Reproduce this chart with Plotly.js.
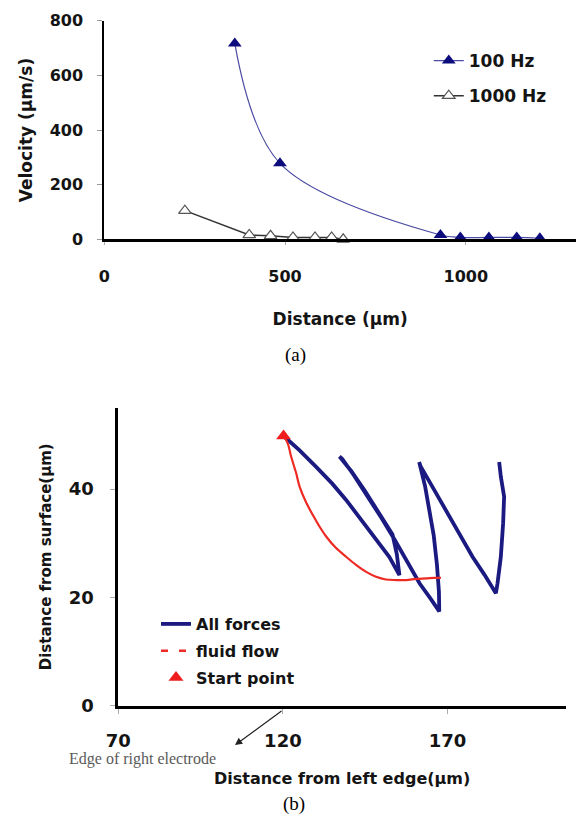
<!DOCTYPE html>
<html>
<head>
<meta charset="utf-8">
<script src="https://cdn.plot.ly/plotly-3.0.1.min.js"></script>
<style>html,body{margin:0;padding:0;background:#fff;}#chart{width:581px;height:816px;}</style>
</head>
<body>
<div id="chart"></div>
<script>
// ---------- (a) Velocity vs distance ----------
const hz100X = [361, 486, 930, 985, 1064, 1141, 1205];
const hz100Y = [717, 278, 16, 7, 7, 7, 4];
const hz1000X = [223, 401, 460, 522, 583, 629, 661];
const hz1000Y = [105, 16, 13, 7, 7, 7, 0];
const velTicks = [0, 200, 400, 600, 800];
const distTicks = [0, 500, 1000];

// ---------- (b) Trajectories ----------
const allForcesX = [120.2, 125, 130.1, 135, 139.2, 143, 146.3, 149.5, 152.3, 155.4,
  154.6, 153.3, 149.6, 145.0, 140.8, 137.2,
  138.0, 141.5, 145.8, 150.0, 154.0, 158.0, 161.5, 164.8, 167.5,
  167.4, 166.8, 165.8, 164.5, 163.2, 161.4,
  161.8, 166.0, 170.5, 174.0, 177.6, 181.2, 184.7,
  185.2, 186.2, 186.9, 187.2, 186.2, 185.7];
const allForcesY = [49.8, 47.2, 44.1, 41.0, 38.0, 35.0, 32.4, 29.8, 27.5, 24.1,
  28.0, 31.6, 35.2, 39.6, 43.3, 46.0,
  45.6, 42.6, 38.7, 34.6, 30.6, 26.3, 22.6, 19.8, 17.4,
  21.0, 26.0, 31.5, 36.5, 40.5, 45.0,
  44.2, 39.8, 34.9, 31.2, 27.5, 24.2, 20.75,
  22.6, 27.5, 33.7, 38.6, 42.3, 45.0];
const fluidX = [120.2, 121.5, 122.5, 124.0, 125.1, 127.0, 129.1, 131.2, 133.2, 136.0, 139.2,
  142.2, 145.3, 148.3, 151.3, 154.4, 157.4, 160.5, 163.5, 166.0, 168.0];
const fluidY = [49.8, 48.4, 46.0, 43.0, 40.4, 37.6, 35.2, 33.0, 31.2, 29.2, 27.5,
  26.0, 24.7, 23.8, 23.3, 23.2, 23.2, 23.4, 23.5, 23.6, 23.6];
const startX = [120.2];
const startY = [49.8];
const posTicks = [70, 120, 170];
const heightTicks = [0, 20, 40];

const sans = 'DejaVu Sans, Arial, sans-serif';
const serif = 'Liberation Serif, Times New Roman, serif';
const ink = '#141414';

const traces = [
  { x: hz100X, y: hz100Y, name: '100 Hz', type: 'scatter', mode: 'lines+markers',
    xaxis: 'x', yaxis: 'y', legend: 'legend', legendgroup: 'a', cliponaxis: false,
    line: { color: '#4b4ba3', width: 1.2, shape: 'spline', smoothing: 1 },
    marker: { symbol: 'triangle-up', size: 12, color: '#0c0c7c', line: { width: 0 } } },
  { x: hz1000X, y: hz1000Y, name: '1000 Hz', type: 'scatter', mode: 'lines+markers',
    xaxis: 'x', yaxis: 'y', legend: 'legend', legendgroup: 'b', cliponaxis: false,
    line: { color: '#333333', width: 1.5 },
    marker: { symbol: 'triangle-up', size: 11, color: '#ffffff', line: { color: '#555555', width: 1.2 } } },

  { x: allForcesX, y: allForcesY, name: 'All forces', type: 'scatter', mode: 'lines',
    xaxis: 'x2', yaxis: 'y2', legend: 'legend2', legendgroup: 'c',
    line: { color: '#1a1a80', width: 3.8 } },
  { x: fluidX, y: fluidY, name: 'fluid flow', type: 'scatter', mode: 'lines',
    xaxis: 'x2', yaxis: 'y2', showlegend: false,
    line: { color: '#ee2a24', width: 2.2, shape: 'spline' } },
  { x: [null], y: [null], name: 'fluid flow', type: 'scatter', mode: 'lines',
    xaxis: 'x2', yaxis: 'y2', legend: 'legend2', legendgroup: 'd',
    line: { color: '#ee2a24', width: 2.5, dash: '7px,11px' } },
  { x: startX, y: startY, name: 'Start point', type: 'scatter', mode: 'markers',
    xaxis: 'x2', yaxis: 'y2', legend: 'legend2', legendgroup: 'e', cliponaxis: false,
    marker: { symbol: 'triangle-up', size: 13, color: '#ee1c1c' } }
];

const tickFontA = { family: sans, size: 16, color: ink, weight: 'bold' };
const tickFontB = { family: sans, size: 18, color: ink, weight: 'bold' };

const layout = {
  width: 581, height: 816,
  margin: { l: 0, r: 0, t: 0, b: 0 },
  paper_bgcolor: '#ffffff', plot_bgcolor: '#ffffff',
  showlegend: true,
  xaxis: { domain: [0.1795, 0.9914], range: [0, 1305], anchor: 'y',
    tickvals: distTicks, ticks: 'outside', ticklen: 3, tickcolor: '#aaaaaa',
    showline: true, linecolor: '#000', linewidth: 2.5, showgrid: false, zeroline: false,
    tickfont: tickFontA, ticklabelstandoff: 18,
    title: { text: 'Distance (µm)', font: { family: sans, size: 17, color: ink, weight: 'bold' }, standoff: 28 } },
  yaxis: { domain: [0.7067, 0.9746], range: [0, 800], anchor: 'x',
    tickvals: velTicks, ticks: 'outside', ticklen: 5, tickcolor: '#999999',
    showline: true, linecolor: '#000', linewidth: 2, showgrid: false, zeroline: false,
    tickfont: tickFontA, ticklabelstandoff: 11,
    title: { text: 'Velocity (µm/s)', font: { family: sans, size: 17, color: ink, weight: 'bold' }, standoff: 13 } },
  xaxis2: { domain: [0.2036, 0.9742], range: [70, 206], anchor: 'y2',
    tickvals: posTicks, ticks: 'outside', ticklen: 5, tickcolor: '#aaaaaa',
    showline: true, linecolor: '#000', linewidth: 3, showgrid: false, zeroline: false,
    tickfont: tickFontB, ticklabelstandoff: 12,
    title: { text: 'Distance from left edge(µm)', font: { family: sans, size: 16, color: ink, weight: 'bold' }, standoff: 23 } },
  yaxis2: { domain: [0.1352, 0.5002], range: [0, 55], anchor: 'x2',
    tickvals: heightTicks, ticks: 'outside', ticklen: 5, tickcolor: '#aaaaaa',
    showline: true, linecolor: '#000', linewidth: 3, showgrid: false, zeroline: false,
    tickfont: tickFontB, ticklabelstandoff: 13,
    title: { text: 'Distance from surface(µm)', font: { family: sans, size: 15, color: ink, weight: 'bold' }, standoff: 14 } },
  legend: { x: 0.738, y: 0.9473, xanchor: 'left', yanchor: 'top', bgcolor: 'rgba(0,0,0,0)',
    font: { family: sans, size: 17, color: ink, weight: 'bold' }, tracegroupgap: 10, borderwidth: 0 },
  legend2: { x: 0.2685, y: 0.2561, xanchor: 'left', yanchor: 'top', bgcolor: 'rgba(0,0,0,0)',
    font: { family: sans, size: 16, color: ink, weight: 'bold' }, tracegroupgap: 3, borderwidth: 0 },
  annotations: [
    { text: '(a)', xref: 'paper', yref: 'paper', x: 295 / 581, y: (816 - 355) / 816,
      xanchor: 'center', yanchor: 'middle',
      showarrow: false, font: { family: serif, size: 19, color: '#000' } },
    { text: '(b)', xref: 'paper', yref: 'paper', x: 294 / 581, y: (816 - 804) / 816,
      xanchor: 'center', yanchor: 'middle',
      showarrow: false, font: { family: serif, size: 19, color: '#000' } },
    { text: 'Edge of right electrode', xref: 'paper', yref: 'paper', x: 142 / 581, y: (816 - 759) / 816,
      xanchor: 'center', yanchor: 'middle',
      showarrow: false, font: { family: serif, size: 16, color: '#5a5a5a' } },
    { text: '', xref: 'paper', yref: 'paper', x: 235 / 581, y: (816 - 745) / 816,
      showarrow: true, ax: 48, ay: -35, arrowhead: 2, arrowsize: 1.2, arrowwidth: 1.2,
      arrowcolor: '#222', standoff: 0, startstandoff: 0 }
  ]
};

Plotly.newPlot('chart', traces, layout, { staticPlot: true, displayModeBar: false });
</script>
</body>
</html>
